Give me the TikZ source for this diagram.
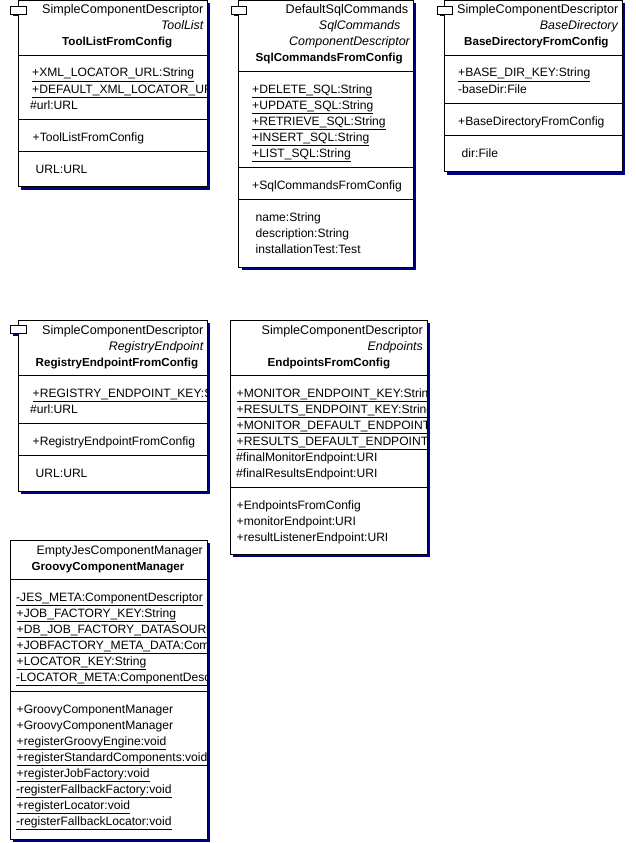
\documentclass[tikz,border=0pt]{standalone}
\usepackage{fontspec}
\setmainfont{Liberation Sans}
\usepackage{xcolor}
\usepackage{tikz}
\usetikzlibrary{positioning}

\definecolor{umlnavy}{HTML}{000080}

\tikzset{
    umlshadow/.style={fill=umlnavy, draw=none},
    umlbox/.style={draw=black, line width=1pt, fill=white},
    umltab/.style={draw=black, line width=1pt, fill=white},
    umlsep/.style={draw=black, line width=1pt},
    umlrow/.style={anchor=base west, inner sep=0pt, font=\fontsize{12.1}{14}\selectfont},
    umlhead/.style={anchor=base east, inner sep=0pt, font=\fontsize{12.6}{14}\selectfont},
    umlstereo/.style={umlhead, font=\fontsize{12.4}{14}\selectfont\itshape},
    umlname/.style={umlrow, font=\fontsize{11.6}{14}\selectfont\bfseries}
}

\begin{document}
\begin{tikzpicture}[x=1pt,y=-1pt]
    \useasboundingbox (0,0) rectangle (636,843);
    \fill[white] (0,0) rectangle (636,843);

    % ToolListFromConfig
    \fill[umlshadow] (13,10) rectangle (30,16.5);
    \fill[umlshadow] (21,3) rectangle (210,189.5);
    \draw[umlbox] (18.5,0.5) rectangle (207.5,186.5);
    \draw[umltab] (10.5,6.5) rectangle (26.5,14.5);
    \draw[umlsep] (18.5,55.5) -- (207.5,55.5);
    \draw[umlsep] (18.5,119.5) -- (207.5,119.5);
    \draw[umlsep] (18.5,151.5) -- (207.5,151.5);
    \begin{scope}
        \clip (19,1) rectangle (207,186);
        \node[umlhead] (toolhead) at (203.5,14) {SimpleComponentDescriptor};
        \node[umlstereo] (toolstereo) at (203.5,30) {ToolList};
        \node[umlname] (toolname) at (62,46) {ToolListFromConfig};
        \node[umlrow] (toolxml) at (32,77) {\underline{+XML\_LOCATOR\_URL:String}};
        \node[umlrow] (tooldefault) at (32,93) {\underline{+DEFAULT\_XML\_LOCATOR\_URL:String}};
        \node[umlrow] (toolurl) at (30,109) {\#url:URL};
        \node[umlrow] (toolctor) at (32.5,141) {+ToolListFromConfig};
        \node[umlrow] (toolprop) at (35.5,173) {URL:URL};
    \end{scope}

    % SqlCommandsFromConfig
    \fill[umlshadow] (234,10) rectangle (250,16.5);
    \fill[umlshadow] (241.5,3) rectangle (416,270);
    \draw[umlbox] (238.5,0.5) rectangle (413.5,267.5);
    \draw[umltab] (231.5,6.5) rectangle (246.5,14.5);
    \draw[umlsep] (238.5,71.5) -- (413.5,71.5);
    \draw[umlsep] (238.5,167.5) -- (413.5,167.5);
    \draw[umlsep] (238.5,199.5) -- (413.5,199.5);
    \begin{scope}
        \clip (239,1) rectangle (413,267);
        \node[umlhead] (sqlhead) at (408.5,14) {DefaultSqlCommands};
        \node[umlstereo] (sqlstereo) at (400.5,30) {SqlCommands};
        \node[umlstereo] (sqldescr) at (410,46) {ComponentDescriptor};
        \node[umlname] (sqlname) at (255.5,62) {SqlCommandsFromConfig};
        \node[umlrow] (sqldelete) at (252,93) {\underline{+DELETE\_SQL:String}};
        \node[umlrow] (sqlupdate) at (252,109) {\underline{+UPDATE\_SQL:String}};
        \node[umlrow] (sqlretrieve) at (252,125) {\underline{+RETRIEVE\_SQL:String}};
        \node[umlrow] (sqlinsert) at (252,141) {\underline{+INSERT\_SQL:String}};
        \node[umlrow] (sqllist) at (252,157) {\underline{+LIST\_SQL:String}};
        \node[umlrow] (sqlctor) at (252,189) {+SqlCommandsFromConfig};
        \node[umlrow] (sqlprop) at (255.5,221) {name:String};
        \node[umlrow] (sqldescription) at (255.5,237) {description:String};
        \node[umlrow] (sqltest) at (255.5,253) {installationTest:Test};
    \end{scope}

    % BaseDirectoryFromConfig
    \fill[umlshadow] (440,10) rectangle (455,16.5);
    \fill[umlshadow] (447,3) rectangle (625,174.5);
    \draw[umlbox] (444.5,0.5) rectangle (622.5,171.5);
    \draw[umltab] (437.5,6.5) rectangle (452.5,14.5);
    \draw[umlsep] (444.5,55.5) -- (622.5,55.5);
    \draw[umlsep] (444.5,103.5) -- (622.5,103.5);
    \draw[umlsep] (444.5,135.5) -- (622.5,135.5);
    \begin{scope}
        \clip (445,1) rectangle (622,171);
        \node[umlhead] (basehead) at (618.5,14) {SimpleComponentDescriptor};
        \node[umlstereo] (basestereo) at (618,30) {BaseDirectory};
        \node[umlname] (basename) at (464,46) {BaseDirectoryFromConfig};
        \node[umlrow] (basekey) at (458,77) {\underline{+BASE\_DIR\_KEY:String}};
        \node[umlrow] (basedir) at (458,93) {-baseDir:File};
        \node[umlrow] (basector) at (458,125) {+BaseDirectoryFromConfig};
        \node[umlrow] (baseprop) at (461.5,157) {dir:File};
    \end{scope}

    % RegistryEndpointFromConfig
    \fill[umlshadow] (13,329) rectangle (30,335.5);
    \fill[umlshadow] (21,323) rectangle (210,494);
    \draw[umlbox] (18.5,320.5) rectangle (207.5,491.5);
    \draw[umltab] (10.5,325.5) rectangle (26.5,333.5);
    \draw[umlsep] (18.5,375.5) -- (207.5,375.5);
    \draw[umlsep] (18.5,423.5) -- (207.5,423.5);
    \draw[umlsep] (18.5,455.5) -- (207.5,455.5);
    \begin{scope}
        \clip (19,321) rectangle (207,491);
        \node[umlhead] (reghead) at (203.5,334) {SimpleComponentDescriptor};
        \node[umlstereo] (regstereo) at (203.5,350) {RegistryEndpoint};
        \node[umlname] (regname) at (35.5,366) {RegistryEndpointFromConfig};
        \node[umlrow] (regkey) at (32.5,397) {\underline{+REGISTRY\_ENDPOINT\_KEY:String}};
        \node[umlrow] (regurl) at (30,413) {\#url:URL};
        \node[umlrow] (regctor) at (32.5,445) {+RegistryEndpointFromConfig};
        \node[umlrow] (regprop) at (35.5,477) {URL:URL};
    \end{scope}

    % EndpointsFromConfig
    \fill[umlshadow] (233,323) rectangle (430,557);
    \draw[umlbox] (230.5,320.5) rectangle (427.5,554.5);
    \draw[umlsep] (230.5,375.5) -- (427.5,375.5);
    \draw[umlsep] (230.5,487.5) -- (427.5,487.5);
    \begin{scope}
        \clip (231,321) rectangle (427,554);
        \node[umlhead] (endhead) at (423,334) {SimpleComponentDescriptor};
        \node[umlstereo] (endstereo) at (423,350) {Endpoints};
        \node[umlname] (endname) at (267.5,366) {EndpointsFromConfig};
        \node[umlrow] (endmonkey) at (236.5,397) {\underline{+MONITOR\_ENDPOINT\_KEY:String}};
        \node[umlrow] (endreskey) at (236.5,413) {\underline{+RESULTS\_ENDPOINT\_KEY:String}};
        \node[umlrow] (endmondef) at (236.5,429) {\underline{+MONITOR\_DEFAULT\_ENDPOINT:String}};
        \node[umlrow] (endresdef) at (236.5,445) {\underline{+RESULTS\_DEFAULT\_ENDPOINT:String}};
        \node[umlrow] (endfinalmon) at (236,461) {\#finalMonitorEndpoint:URI};
        \node[umlrow] (endfinalres) at (236,477) {\#finalResultsEndpoint:URI};
        \node[umlrow] (endctor) at (236.5,509) {+EndpointsFromConfig};
        \node[umlrow] (endmonitor) at (236.5,525) {+monitorEndpoint:URI};
        \node[umlrow] (endlistener) at (236.5,541) {+resultListenerEndpoint:URI};
    \end{scope}

    % GroovyComponentManager
    \fill[umlshadow] (13,543) rectangle (210,842);
    \draw[umlbox] (10.5,540.5) rectangle (207.5,839.5);
    \draw[umlsep] (10.5,579.5) -- (207.5,579.5);
    \draw[umlsep] (10.5,691.5) -- (207.5,691.5);
    \begin{scope}
        \clip (11,541) rectangle (207,839);
        \node[umlhead, font=\fontsize{12.3}{14}\selectfont] (grvhead) at (203,554) {EmptyJesComponentManager};
        \node[umlname] (grvname) at (31.5,570) {GroovyComponentManager};
        \node[umlrow] (grvmeta) at (16,601) {\underline{-JES\_META:ComponentDescriptor}};
        \node[umlrow] (grvjob) at (16.5,617) {\underline{+JOB\_FACTORY\_KEY:String}};
        \node[umlrow] (grvdb) at (16.5,633) {\underline{+DB\_JOB\_FACTORY\_DATASOURCE:String}};
        \node[umlrow] (grvdata) at (16.5,649) {\underline{+JOBFACTORY\_META\_DATA:ComponentDescriptor}};
        \node[umlrow] (grvlockey) at (16.5,665) {\underline{+LOCATOR\_KEY:String}};
        \node[umlrow] (grvlocmeta) at (16,681) {\underline{-LOCATOR\_META:ComponentDescriptor}};
        \node[umlrow] (grvctora) at (16.5,713) {+GroovyComponentManager};
        \node[umlrow] (grvctorb) at (16.5,729) {+GroovyComponentManager};
        \node[umlrow] (grvengine) at (16.5,745) {\underline{+registerGroovyEngine:void}};
        \node[umlrow] (grvstandard) at (16.5,761) {\underline{+registerStandardComponents:void}};
        \node[umlrow] (grvfactory) at (16.5,777) {\underline{+registerJobFactory:void}};
        \node[umlrow] (grvfallback) at (16,793) {\underline{-registerFallbackFactory:void}};
        \node[umlrow] (grvlocator) at (16.5,809) {\underline{+registerLocator:void}};
        \node[umlrow] (grvfalloc) at (16,825) {\underline{-registerFallbackLocator:void}};
    \end{scope}
\end{tikzpicture}
\end{document}
